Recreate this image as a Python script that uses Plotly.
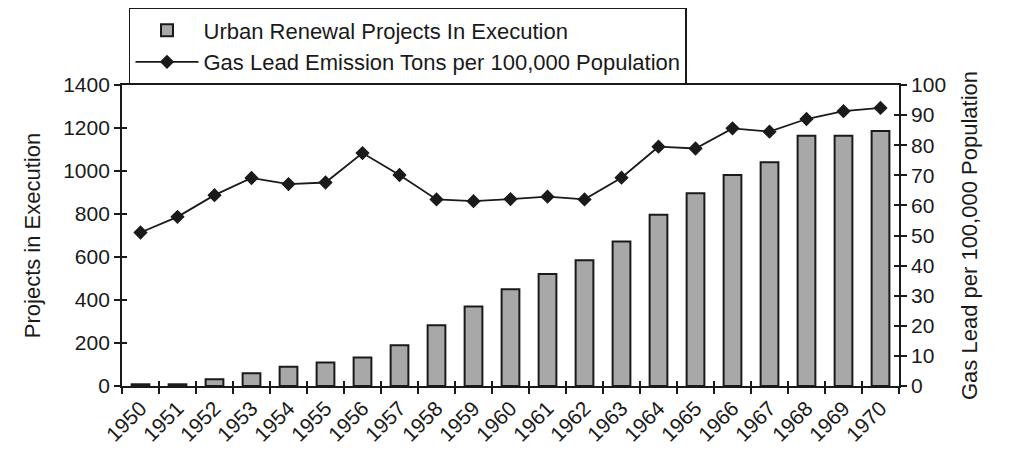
import plotly.graph_objects as go

years = [str(y) for y in range(1950, 1971)]
projects = [8, 8, 31, 59, 89, 109, 132, 190, 283, 370, 450, 521, 585, 672, 796,
            896, 981, 1041, 1164, 1164, 1186]
lead = [51.0, 56.2, 63.4, 69.1, 67.1, 67.6, 77.4, 70.1, 62.0, 61.4, 62.1, 62.9,
        62.0, 69.2, 79.5, 78.9, 85.6, 84.5, 88.7, 91.3, 92.4]

FONT = "Arial, Liberation Sans, sans-serif"
INK = "#1a1a1a"
TICK_FS = 21
TITLE_FS = 22
LEG_FS = 22

fig = go.Figure()
fig.add_trace(go.Bar(
    x=years, y=projects, name="Urban Renewal Projects In Execution",
    marker=dict(color="#a8a8a8", line=dict(color=INK, width=2)),
    width=0.48, yaxis="y",
))
fig.add_trace(go.Scatter(
    x=years, y=lead, name="Gas Lead Emission Tons per 100,000 Population",
    mode="lines+markers", line=dict(color=INK, width=1.8),
    marker=dict(symbol="diamond", size=11, color=INK),
    yaxis="y2",
))
# invisible traces to enable the inner halves of the crossing ticks
fig.add_trace(go.Scatter(x=years, y=projects, xaxis="x2", yaxis="y3",
                         mode="markers", marker=dict(opacity=0), showlegend=False,
                         hoverinfo="skip"))
fig.add_trace(go.Scatter(x=years, y=lead, xaxis="x2", yaxis="y4",
                         mode="markers", marker=dict(opacity=0), showlegend=False,
                         hoverinfo="skip"))

tk = dict(tickcolor=INK, tickwidth=1.5, showgrid=False, zeroline=False)

fig.update_layout(
    width=1016, height=452,
    margin=dict(l=114, r=125, t=77, b=74, autoexpand=False),
    paper_bgcolor="white", plot_bgcolor="white",
    font=dict(family=FONT, size=TICK_FS, color=INK),
    showlegend=True,
    legend=dict(
        x=0.009, y=1.256, xanchor="left", yanchor="top",
        bgcolor="white", bordercolor=INK, borderwidth=1.5,
        font=dict(size=LEG_FS, color=INK), traceorder="normal",
        itemwidth=63,
    ),
    xaxis=dict(
        type="category", tickangle=-45, showline=True, linecolor=INK, linewidth=1.8,
        ticks="outside", ticklen=6, tickson="boundaries", mirror=True,
        tickfont=dict(size=TICK_FS), range=[-0.5, 20.5], **tk,
    ),
    xaxis2=dict(
        type="category", overlaying="x", matches="x", side="bottom", ticks="inside",
        ticklen=5, tickson="boundaries", showticklabels=False, showline=False,
        range=[-0.5, 20.5], **tk,
    ),
    yaxis=dict(
        range=[0, 1400], dtick=200, showline=True, linecolor=INK, linewidth=1.8,
        ticks="outside", ticklen=6,
        title=dict(text="Projects in Execution", font=dict(size=TITLE_FS), standoff=16),
        tickfont=dict(size=TICK_FS), **tk,
    ),
    yaxis2=dict(
        range=[0, 100], dtick=10, overlaying="y", side="right", showline=True,
        linecolor=INK, linewidth=1.8, ticks="outside", ticklen=6,
        title=dict(text="Gas Lead per 100,000 Population", font=dict(size=TITLE_FS), standoff=16),
        tickfont=dict(size=TICK_FS), **tk,
    ),
    yaxis3=dict(range=[0, 1400], dtick=200, overlaying="y", side="left", ticks="inside",
                ticklen=5, showticklabels=False, showline=False, **tk),
    yaxis4=dict(range=[0, 100], dtick=10, overlaying="y", side="right", ticks="inside",
                ticklen=5, showticklabels=False, showline=False, **tk),
)

fig.write_html("out.html")
